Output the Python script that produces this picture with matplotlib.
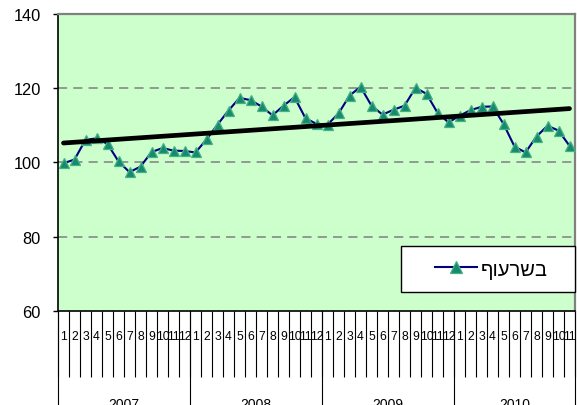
import numpy as np
import matplotlib
matplotlib.use("Agg")
import matplotlib.pyplot as plt
from matplotlib.lines import Line2D
from matplotlib.patches import Rectangle
import matplotlib.transforms as mtransforms

plt.rcParams['font.family'] = ['Liberation Sans', 'DejaVu Sans']

# monthly index values, Jan 2007 .. Nov 2010
years = ["2007", "2008", "2009", "2010"]
months_per_year = [12, 12, 12, 11]
values = [
    99.8, 100.8, 106.1, 106.5, 105.0, 100.3, 97.4, 98.9, 102.8, 103.9, 103.2, 103.1,
    102.7, 106.2, 110.2, 114.0, 117.4, 116.8, 115.1, 112.7, 115.3, 117.6, 111.9, 110.4,
    110.2, 113.2, 118.0, 120.4, 115.3, 112.9, 114.2, 115.3, 120.1, 118.5, 113.4, 110.8,
    112.6, 114.1, 115.0, 115.1, 110.4, 104.3, 102.7, 107.0, 109.9, 108.6, 104.5,
]
series_name = "בשר עוף".replace(" ", "")
month_labels = [str(m) for n in months_per_year for m in range(1, n + 1)]

W, H = 577, 406
fig = plt.figure(figsize=(W / 100, H / 100), dpi=100)
ax = fig.add_axes([58 / W, (H - 312) / H, (575 - 58) / W, (312 - 15) / H])
ax.set_facecolor("#CCFFCC")

n = len(values)
x = np.arange(n) + 0.5

# trend line (linear fit, like Excel's trendline)
k, b = np.polyfit(x, values, 1)
xt = np.array([x[0], x[-1]])

line, = ax.plot(x, values, color="#000080", lw=1.5, marker="^", ms=7.5,
                mfc="#168a6e", mec="#45b084", mew=0.9, zorder=3)
ax.plot(xt, k * xt + b, color="black", lw=3.4, solid_capstyle="round", zorder=4)

ax.set_xlim(0, n)
ax.set_ylim(60, 140)
ax.set_yticks([60, 80, 100, 120, 140])
for yv in [80, 100, 120]:
    ax.axhline(yv, color="#808080", lw=1.1, ls=(0, (6, 4)), zorder=1)

ax.tick_params(axis="y", direction="out", length=3.8, width=1, pad=8.5, labelsize=11.8)

# month ticks at category boundaries, labels at centres
ax.set_xticks(np.arange(0, n + 1))
ax.set_xticklabels([])
ax.set_xticks(x, minor=True)
ax.set_xticklabels(month_labels, minor=True, fontsize=8.8)
ax.tick_params(axis="x", which="major", direction="out", length=47.5, width=0.8, color="black")
ax.tick_params(axis="x", which="minor", length=0, pad=14)

for s in ["left", "bottom"]:
    ax.spines[s].set_color("black")
    ax.spines[s].set_linewidth(1.2)
for s in ["top", "right"]:
    ax.spines[s].set_color("#808080")
    ax.spines[s].set_linewidth(1.6)

# year groups below the month labels
trans = mtransforms.blended_transform_factory(ax.transData, ax.transAxes)
bounds = np.cumsum([0] + months_per_year)
for bx in bounds:
    ax.plot([bx, bx], [0, -0.4], color="black", lw=0.8, transform=trans, clip_on=False)
for i, yr in enumerate(years):
    ax.text((bounds[i] + bounds[i + 1]) / 2, -(398 - 312) / 297, yr, transform=trans,
            ha="center", va="top", fontsize=10)

# legend box
fig.patches.append(Rectangle((401 / W, (H - 293) / H), 174 / W, 46 / H,
                             transform=fig.transFigure, facecolor="white",
                             edgecolor="black", lw=1, zorder=5))
handle = Line2D([], [], color="#000080", lw=1.5, marker="^", ms=8,
                mfc="#168a6e", mec="#45b084", mew=0.9)
leg = fig.legend(handles=[handle], labels=[series_name[::-1]], frameon=False,
                 loc="center left", bbox_to_anchor=(435 / W, (H - 270) / H),
                 handlelength=2.1, handletextpad=0.15, borderpad=0, borderaxespad=0,
                 fontsize=14.5)
leg.set_zorder(6)

fig.savefig("out.png", dpi=100)
